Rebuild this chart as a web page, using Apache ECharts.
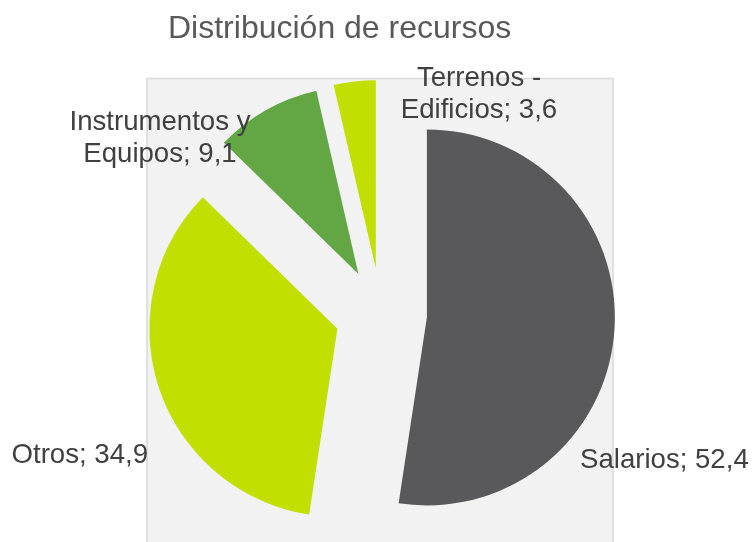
<!DOCTYPE html>
<html>
<head>
<meta charset="utf-8">
<script src="https://cdn.jsdelivr.net/npm/echarts@6/dist/echarts.min.js"></script>
<style>
html,body{margin:0;padding:0;background:#fff;}
#chart{width:756px;height:542px;}
</style>
</head>
<body>
<div id="chart"></div>
<script>
// Data
var categories = ['Salarios', 'Otros', 'Instrumentos y Equipos', 'Terrenos - Edificios'];
var labelNames = ['Salarios', 'Otros', 'Instrumentos y\nEquipos', 'Terrenos -\nEdificios'];
var values = [52.4, 34.9, 9.1, 3.6];
var colors = ['#59595B', '#C1DF00', '#63A744', '#C1DF00'];

// Label placement (pixels), separate from data
var labelPos = [
  [580, 460, 'left'],
  [148, 455, 'right'],
  [160, 138, 'center'],
  [479, 94, 'center']
];

var chart = echarts.init(document.getElementById('chart'), null, {renderer: 'canvas'});

var seriesData = categories.map(function (c, i) {
  return {
    name: c,
    value: values[i],
    selected: true,
    itemStyle: {color: colors[i]}
  };
});

var FONT = 'Liberation Sans, Arial, sans-serif';

var labelTexts = values.map(function (v, i) {
  var pos = labelPos[i];
  return {
    type: 'text',
    z: 20,
    silent: true,
    style: {
      text: labelNames[i] + '; ' + v.toFixed(1).replace('.', ','),
      x: pos[0],
      y: pos[1],
      textAlign: pos[2],
      textVerticalAlign: 'middle',
      fontFamily: FONT,
      fontSize: 27.6,
      lineHeight: 32,
      fill: '#404040'
    }
  };
});

chart.setOption({
  animation: false,
  backgroundColor: '#ffffff',
  title: {
    text: 'Distribución de recursos',
    left: 168,
    top: 13,
    padding: 0,
    textStyle: {
      fontFamily: FONT,
      fontSize: 32,
      fontWeight: 'normal',
      color: '#595959'
    }
  },
  graphic: {
    elements: [{
      type: 'rect',
      z: -10,
      silent: true,
      shape: {x: 147, y: 78.5, width: 466, height: 480},
      style: {fill: '#F2F2F2', stroke: '#D9D9D9', lineWidth: 1.5}
    }].concat(labelTexts)
  },
  series: [{
    type: 'pie',
    z: 5,
    center: [381, 314],
    radius: 188,
    startAngle: 90,
    clockwise: true,
    selectedMode: 'multiple',
    selectedOffset: 46,
    avoidLabelOverlap: false,
    emphasis: {disabled: true},
    select: {itemStyle: {}},
    itemStyle: {borderWidth: 0},
    label: {show: false},
    labelLine: {show: false},
    data: seriesData
  }]
});
</script>
</body>
</html>
